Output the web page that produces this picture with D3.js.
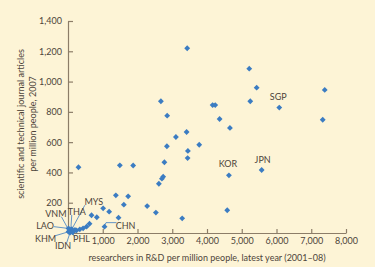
<!DOCTYPE html>
<html>
<head>
<meta charset="utf-8">
<script src="https://cdn.jsdelivr.net/npm/d3@7"></script>
<style>
    body { margin: 0; background: #fdf4d6; }
    svg { display: block; }
    text { font-family: Lato, "Open Sans", sans-serif; fill: #4d443a; }
</style>
</head>
<body>
<div id="chart"></div>
<script>
'use strict';

// Data: researchers in R&D per million people / journal articles per million people
const researchers = [
    3430, 5216, 5429, 5245, 6080, 7388, 7330, 2673, 2854, 4162,
    4237, 4363, 4660, 3105, 3413, 2846, 3776, 3450, 3442, 2774,
    302, 1492, 1875, 4631, 5573, 2739, 2702, 2615, 1377, 1731,
    1607, 2278, 2529, 3286, 4582, 1011, 1184, 1454, 677, 829,
    619, 1051, 533, 435, 340, 245, 147, 200,
    110, 80, 40, 15, 15, 60, 130
];
const articles = [
    1220, 1085, 960, 870, 828, 945, 748, 870, 775, 845,
    845, 753, 694, 634, 667, 573, 583, 542, 495, 467,
    434, 447, 446, 381, 416, 372, 359, 325, 249, 242,
    187, 178, 135, 97, 150, 163, 141, 101, 117, 104,
    61, 42, 42, 31, 24, 17, 10, 20,
    25, 20, 12, 30, 8, 3, 5
];
const codes = [
    '', '', '', '', 'SGP', '', '', '', '', '',
    '', '', '', '', '', '', '', '', '', '',
    '', '', '', 'KOR', 'JPN', '', '', '', '', '',
    '', '', '', '', '', '', '', '', '', '',
    '', 'CHN', '', '', '', '', '', '',
    'MYS', 'THA', 'VNM', 'LAO', 'KHM', 'IDN', 'PHL'
];

const xTicks = [1000, 2000, 3000, 4000, 5000, 6000, 7000, 8000];
const yTicks = [200, 400, 600, 800, 1000, 1200, 1400];

// Label placement (pixel offsets from the point: text position, leader polyline)
const labelLayout = {
    SGP: {tx: -1, ty: -8, line: null},
    KOR: {tx: -1, ty: -8, line: null},
    JPN: {tx: 1, ty: -7.5, line: null},
    CHN: {tx: 21, ty: 2.5, line: [[0, -1], [1.5, -4], [12, -4]]},
    MYS: {tx: 22, ty: -24, line: [[13, -24], [0, 0]]},
    THA: {tx: 6, ty: -15, line: [[1, -15], [0, 0]]},
    VNM: {tx: -13.5, ty: -14, line: [[-8, -14.5], [0, 0]]},
    LAO: {tx: -23.5, ty: 0.5, line: [[-14.5, -1.8], [0, 0]]},
    KHM: {tx: -23, ty: 10, line: [[-13.5, 4], [0, 0]]},
    IDN: {tx: -7, ty: 16.5, line: [[-3.6, 10.8], [0, 0]]},
    PHL: {tx: 9, ty: 9.5, line: [[2.3, 5.5], [0, 0]]}
};

/* ---- Config ---- */
const w = 375, h = 267;
const margin = {top: 21, right: 29, bottom: 34, left: 68};
const gW = w - margin.left - margin.right;
const gH = h - margin.top - margin.bottom;

const svg = d3.select('#chart')
    .append('svg')
    .attr('width', w)
    .attr('height', h);

svg.append('rect')
    .attr('width', w)
    .attr('height', h)
    .attr('fill', '#fdf4d6');

const g = svg.append('g')
    .attr('transform', `translate(${margin.left},${margin.top})`);

// Scales
const x = d3.scaleLinear().domain([0, 8000]).range([0, gW]);
const y = d3.scaleLinear().domain([0, 1400]).range([gH, 0]);

const axisColor = '#8c7d68';
const blue = '#3b7cc2';

// Axes
const xAxis = g.append('g')
    .attr('transform', `translate(0,${gH})`)
    .call(d3.axisBottom(x)
        .tickValues(xTicks)
        .tickFormat(d3.format(','))
        .tickSizeInner(-4)
        .tickSizeOuter(0)
        .tickPadding(5));

const yAxis = g.append('g')
    .call(d3.axisLeft(y)
        .tickValues(yTicks)
        .tickFormat(d3.format(','))
        .tickSizeInner(-5)
        .tickSizeOuter(0)
        .tickPadding(6));

[xAxis, yAxis].forEach(a => {
    a.selectAll('path, line').attr('stroke', axisColor).attr('stroke-width', 1.2);
    a.selectAll('text')
        .attr('font-family', 'Lato, sans-serif')
        .attr('font-size', 9)
        .attr('fill', '#4d443a');
});

// Axis titles
g.append('text')
    .attr('x', gW / 2)
    .attr('y', gH + 28)
    .attr('text-anchor', 'middle')
    .attr('font-size', 9)
    .text('researchers in R&D per million people, latest year (2001–08)');

const yTitle = g.append('text')
    .attr('transform', `translate(-44,${gH / 2 - 3}) rotate(-90)`)
    .attr('text-anchor', 'middle')
    .attr('font-size', 9);
yTitle.append('tspan').attr('x', 0).attr('dy', 0)
    .text('scientific and technical journal articles');
yTitle.append('tspan').attr('x', 0).attr('dy', 12)
    .text('per million people, 2007');

// Points
const data = researchers.map((r, i) => ({r: r, a: articles[i], code: codes[i]}));

// Leader lines
g.append('g').selectAll('path')
    .data(data.filter(d => d.code && labelLayout[d.code].line))
    .join('path')
    .attr('d', d => d3.line()(labelLayout[d.code].line.map(p => [x(d.r) + p[0], y(d.a) + p[1]])))
    .attr('fill', 'none')
    .attr('stroke', blue)
    .attr('stroke-width', 0.8);

g.append('g').selectAll('path')
    .data(data)
    .join('path')
    .attr('transform', d => `translate(${x(d.r)},${y(d.a)}) rotate(45)`)
    .attr('d', d3.symbol(d3.symbolSquare, 17))
    .attr('fill', blue);

// Country labels
g.append('g').selectAll('text')
    .data(data.filter(d => d.code))
    .join('text')
    .attr('x', d => x(d.r) + labelLayout[d.code].tx)
    .attr('y', d => y(d.a) + labelLayout[d.code].ty)
    .attr('text-anchor', 'middle')
    .attr('font-size', 9)
    .text(d => d.code);
</script>
</body>
</html>
